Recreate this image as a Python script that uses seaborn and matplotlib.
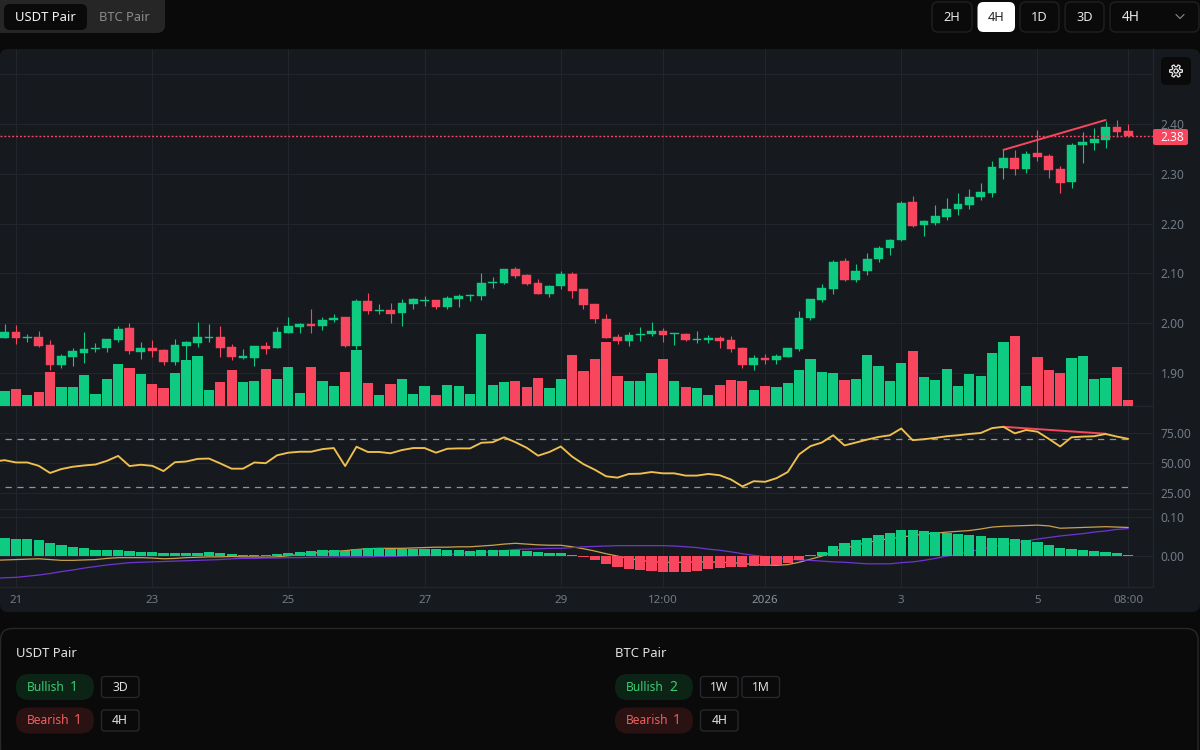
import matplotlib
matplotlib.use('Agg')
import matplotlib.pyplot as plt
import numpy as np
import pandas as pd
import seaborn as sns
from matplotlib.patches import FancyBboxPatch

# === candles, one 4H bar per row ===
candle_open = [1.970, 1.983, 1.970, 1.972, 1.956, 1.917, 1.932, 1.941, 1.948, 1.950, 1.967, 1.990, 1.942, 1.950, 1.946, 1.922, 1.954, 1.960, 1.970, 1.972,
               1.953, 1.930, 1.930, 1.955, 1.951, 1.981, 1.993, 1.998, 1.994, 2.006, 2.012, 1.955, 2.045, 2.025, 2.027, 2.021, 2.039, 2.045, 2.047, 2.033,
               2.049, 2.055, 2.055, 2.080, 2.081, 2.109, 2.096, 2.081, 2.059, 2.074, 2.098, 2.068, 2.038, 2.009, 1.973, 1.964, 1.976, 1.978, 1.984, 1.978,
               1.978, 1.966, 1.966, 1.971, 1.966, 1.950, 1.917, 1.930, 1.926, 1.933, 1.948, 2.011, 2.047, 2.069, 2.124, 2.087, 2.104, 2.128, 2.150, 2.167,
               2.243, 2.197, 2.202, 2.213, 2.229, 2.237, 2.253, 2.262, 2.312, 2.332, 2.310, 2.342, 2.336, 2.310, 2.283, 2.357, 2.362, 2.368, 2.394, 2.385]
candle_high = [1.998, 1.996, 1.978, 1.985, 1.966, 1.938, 1.951, 1.982, 1.960, 1.968, 1.994, 2.000, 1.962, 1.966, 1.948, 1.968, 1.964, 2.002, 1.998, 1.994,
               1.958, 1.948, 1.955, 1.962, 1.992, 2.012, 2.000, 2.029, 2.013, 2.019, 2.013, 2.049, 2.060, 2.039, 2.040, 2.049, 2.051, 2.054, 2.047, 2.055,
               2.059, 2.059, 2.100, 2.092, 2.109, 2.113, 2.098, 2.089, 2.077, 2.104, 2.102, 2.068, 2.038, 2.019, 1.978, 1.982, 1.992, 2.002, 1.990, 1.980,
               1.980, 1.984, 1.976, 1.974, 1.975, 1.952, 1.936, 1.938, 1.938, 1.950, 2.025, 2.049, 2.079, 2.127, 2.130, 2.119, 2.141, 2.155, 2.170, 2.246,
               2.255, 2.207, 2.237, 2.251, 2.261, 2.270, 2.281, 2.326, 2.348, 2.348, 2.345, 2.387, 2.339, 2.316, 2.362, 2.383, 2.392, 2.407, 2.408, 2.400]
candle_low = [1.970, 1.959, 1.962, 1.953, 1.906, 1.911, 1.915, 1.921, 1.943, 1.943, 1.962, 1.938, 1.928, 1.932, 1.917, 1.917, 1.926, 1.953, 1.962, 1.932,
              1.926, 1.928, 1.915, 1.938, 1.951, 1.981, 1.981, 1.981, 1.987, 2.002, 1.953, 1.949, 2.019, 2.019, 2.000, 1.995, 2.029, 2.034, 2.029, 2.029,
              2.033, 2.045, 2.047, 2.071, 2.079, 2.091, 2.077, 2.059, 2.053, 2.068, 2.051, 2.029, 2.000, 1.970, 1.959, 1.955, 1.964, 1.975, 1.962, 1.956,
              1.964, 1.960, 1.960, 1.951, 1.943, 1.910, 1.905, 1.919, 1.919, 1.933, 1.944, 2.007, 2.043, 2.059, 2.085, 2.082, 2.096, 2.123, 2.136, 2.165,
              2.193, 2.175, 2.198, 2.208, 2.217, 2.229, 2.248, 2.253, 2.290, 2.298, 2.302, 2.326, 2.292, 2.262, 2.272, 2.321, 2.347, 2.351, 2.374, 2.374]
candle_close = [1.983, 1.970, 1.973, 1.955, 1.917, 1.934, 1.944, 1.949, 1.950, 1.968, 1.988, 1.944, 1.951, 1.944, 1.922, 1.956, 1.962, 1.972, 1.972, 1.951,
                1.932, 1.934, 1.955, 1.949, 1.983, 1.994, 1.998, 1.995, 2.006, 2.010, 1.955, 2.045, 2.025, 2.027, 2.019, 2.040, 2.049, 2.047, 2.033, 2.051,
                2.055, 2.057, 2.081, 2.083, 2.109, 2.095, 2.079, 2.059, 2.075, 2.098, 2.065, 2.036, 2.008, 1.970, 1.964, 1.977, 1.979, 1.984, 1.976, 1.980,
                1.966, 1.968, 1.971, 1.964, 1.949, 1.917, 1.930, 1.927, 1.934, 1.950, 2.011, 2.049, 2.070, 2.122, 2.087, 2.105, 2.128, 2.151, 2.168, 2.241,
                2.195, 2.205, 2.215, 2.230, 2.239, 2.254, 2.264, 2.313, 2.332, 2.310, 2.339, 2.334, 2.308, 2.282, 2.358, 2.364, 2.370, 2.394, 2.383, 2.376]
volume = [15, 17, 11.3, 14, 34, 19, 19, 31, 12.3, 27.3, 42.3, 37.7, 32, 21.7, 18, 33, 46, 49.7, 16, 24.3,
          35.7, 23.7, 24.7, 36.7, 27.3, 38.7, 13, 38.7, 25.3, 19.7, 34, 56.3, 22.7, 11.3, 21.7, 27.3, 12.3, 20, 11.3, 21,
          20, 12.3, 71.7, 21, 23.7, 25.3, 19, 28.3, 18, 27.3, 51, 35, 47, 64, 30, 24.7, 24.7, 33, 47, 25.3,
          19, 18, 10.7, 21, 25.7, 24.7, 16, 20, 19, 22.7, 36, 47, 34, 33, 26.3, 27.3, 51, 39.7, 24.7, 43.3,
          54.7, 29.3, 25.7, 36.7, 20, 32, 30.3, 52.7, 64, 69.7, 20, 49, 36, 33, 48, 50, 26.7, 28.3, 38.7, 6]

# === indicators ===
rsi = [52.2, 50.3, 50.3, 47.5, 41.5, 44.8, 46.7, 47.8, 48.6, 51.6, 55.8, 47.3, 48.4, 47.5, 43.1, 50.5, 51.1, 53.3, 53.6, 49.5,
       45.1, 45.1, 50.3, 49.7, 56.3, 58.5, 59.3, 59.3, 61.5, 62.4, 47.3, 63.5, 59.1, 59.1, 58.0, 60.7, 62.4, 62.4, 58.5, 61.8,
       62.1, 62.1, 66.8, 67.3, 71.4, 67.3, 62.6, 56.0, 59.1, 63.7, 55.2, 48.9, 44.2, 38.7, 37.6, 40.7, 40.9, 42.3, 41.2, 41.2,
       39.3, 39.3, 40.7, 39.6, 36.0, 30.2, 34.6, 34.1, 37.1, 42.3, 57.1, 64.0, 67.0, 73.1, 64.6, 67.0, 69.5, 71.7, 73.1, 78.8,
       69.0, 69.8, 70.9, 72.3, 73.1, 74.2, 75.0, 79.1, 80.2, 74.7, 77.5, 76.1, 70.1, 63.7, 71.4, 72.0, 72.3, 74.2, 72.0, 70.1]
macd_hist = [.047, .044, .044, .040, .032, .028, .023, .020, .016, .016, .016, .013, .010, .010, .008, .008, .008, .008, .010, .008,
             .005, .003, .003, .003, .005, .008, .010, .013, .016, .016, .013, .017, .020, .020, .017, .018, .018, .018, .018, .015,
             .015, .012, .016, .016, .016, .016, .013, .010, .008, .008, .003, -.003, -.011, -.022, -.030, -.034, -.037, -.039, -.042, -.042,
             -.042, -.039, -.034, -.031, -.029, -.029, -.026, -.026, -.024, -.019, -.011, .003, .010, .025, .033, .040, .047, .054, .059, .067,
             .067, .064, .062, .059, .057, .054, .050, .047, .047, .043, .040, .035, .028, .020, .017, .016, .013, .010, .006, .003]
macd_dif = [-.011, -.010, -.009, -.008, -.010, -.012, -.012, -.011, -.010, -.007, -.005, -.005, -.005, -.006, -.008, -.007, -.005, -.004, -.003, -.003,
            -.002, -.003, -.003, -.004, -.003, .000, .003, .006, .009, .011, .013, .016, .018, .019, .019, .019, .020, .021, .022, .022,
            .023, .023, .025, .027, .030, .032, .030, .028, .027, .027, .023, .018, .012, .005, -.001, -.007, -.012, -.016, -.017, -.017,
            -.017, -.016, -.016, -.017, -.018, -.020, -.023, -.024, -.025, -.023, -.017, -.009, -.001, .010, .019, .027, .034, .040, .044, .048,
            .052, .056, .058, .061, .063, .065, .069, .074, .076, .077, .078, .079, .077, .071, .072, .073, .074, .075, .074, .073]
macd_dea = [-.057, -.056, -.053, -.050, -.046, -.041, -.037, -.032, -.028, -.024, -.021, -.018, -.017, -.016, -.015, -.014, -.013, -.012, -.011, -.010,
            -.008, -.007, -.007, -.006, -.006, -.005, -.005, -.004, -.004, -.003, -.003, -.003, -.003, -.002, -.002, -.001, .000, .001, .003, .003,
            .005, .007, .009, .010, .013, .016, .017, .018, .019, .019, .021, .023, .024, .025, .026, .026, .026, .026, .026, .025,
            .023, .021, .017, .014, .010, .005, .001, -.003, -.006, -.009, -.011, -.012, -.014, -.016, -.017, -.019, -.021, -.021, -.021, -.018,
            -.016, -.012, -.007, -.001, .004, .010, .017, .023, .028, .033, .038, .043, .047, .051, .054, .057, .061, .064, .068, .070]

# the indicator lines come in from one bar left of the visible window
rsi_before = 51.1
dif_before = -.012
dea_before = -.059

# divergence lines, bar number and value at both ends
price_div_bars = [88, 97]
price_div_vals = [2.348, 2.408]
rsi_div_bars = [88, 97]
rsi_div_vals = [80.2, 74.4]
rsi_bands = [70, 30]

# === axis labels ===
tick_bars = [1, 13, 25, 37, 49, 58, 67, 79, 91, 99]
tick_labels = ['21', '23', '25', '27', '29', '12:00', '2026', '3', '5', '08:00']
price_ticks = [1.90, 2.00, 2.10, 2.20, 2.30, 2.40]
price_grid_top = 2.50  # label sits under the settings button in the reference
rsi_ticks = [25, 50, 75]
macd_ticks = [0.00, 0.10]

GREEN = '#0ECB81'
RED = '#F9465F'
GOLD = '#F0C04F'
PURPLE = '#6F35D0'
GRID = '#22262C'
CARD = '#161A1F'
PAGE = '#0A0A0A'
TICK = '#727A84'

sns.set_theme(style='dark')
plt.rcParams['font.family'] = ['Noto Sans', 'DejaVu Sans']

df = pd.DataFrame({'bar': range(len(candle_open)), 'open': candle_open, 'high': candle_high,
                   'low': candle_low, 'close': candle_close, 'volume': volume,
                   'rsi': rsi, 'hist': macd_hist, 'dif': macd_dif, 'dea': macd_dea})
df['dir'] = ['up' if c >= o else 'down' for o, c in zip(df['open'], df['close'])]
df['hist_dir'] = ['up' if h >= 0 else 'down' for h in df['hist']]
palette = {'up': GREEN, 'down': RED}
line_bars = [-1] + df['bar'].tolist()

fig = plt.figure(figsize=(12, 7.5), dpi=100, facecolor=PAGE)


def pane(top, bottom, zorder):
    ax = fig.add_axes([0, 1 - bottom / 750, 1153 / 1200, (bottom - top) / 750], zorder=zorder)
    ax.patch.set_visible(False)
    return ax


def pixel_layer(zorder):
    ax = fig.add_axes([0, 0, 1, 1], zorder=zorder)
    ax.set_xlim(0, 1200)
    ax.set_ylim(750, 0)
    ax.axis('off')
    return ax


def box(ax, x0, y0, x1, y1, face, edge='none', radius=6, lw=1.0):
    ax.add_patch(FancyBboxPatch((x0, y0), x1 - x0, y1 - y0, boxstyle=f'round,pad=0,rounding_size={radius}',
                                facecolor=face, edgecolor=edge, linewidth=lw))


def finish(ax, yticks, ylim, fmt):
    ax.set_xlim(-0.41, 101.18)
    ax.set_ylim(*ylim)
    ax.set_xticks(tick_bars)
    ax.set_xticklabels([])
    ax.set_yticks(yticks)
    ax.set_yticklabels([fmt % t for t in yticks])
    ax.yaxis.tick_right()
    ax.tick_params(axis='y', length=0, pad=5.5, labelsize=8.6, labelcolor=TICK)
    ax.tick_params(axis='x', length=0)
    ax.grid(True, color=GRID, linewidth=0.8)
    ax.set_axisbelow(True)
    ax.set_xlabel('')
    ax.set_ylabel('')
    for name, spine in ax.spines.items():
        spine.set_visible(name in ('right', 'bottom'))
        spine.set_color(GRID)
        spine.set_linewidth(0.9)


# === background card ===
back = pixel_layer(0)
box(back, 0, 49, 1200, 612, CARD, radius=8)

# === candles ===
ax_price = pane(49, 406, 1)
for name, group in df.groupby('dir'):
    color = palette[name]
    body_low = group[['open', 'close']].min(axis=1)
    body_high = group[['open', 'close']].max(axis=1)
    ax_price.vlines(group['bar'], group['low'], group['high'], color=color, linewidth=0.8, zorder=3)
    ax_price.bar(group['bar'], body_high - body_low, bottom=body_low, width=0.77, color=color,
                 edgecolor=color, linewidth=0.3, zorder=4)
last_close = candle_close[-1]
ax_price.axhline(last_close, color=RED, linewidth=1.0, linestyle=(0, (1.4, 1.4)), zorder=5)
ax_price.axhline(price_grid_top, color=GRID, linewidth=0.8, zorder=1)
sns.lineplot(x=price_div_bars, y=price_div_vals, color=RED, linewidth=1.4, ax=ax_price, zorder=6)
finish(ax_price, price_ticks, (1.8337, 2.5506), '%.2f')

# === volume, one px per unit so it sits on the pane floor ===
ax_vol = pane(49, 406, 2)
sns.barplot(data=df, x='bar', y='volume', hue='dir', palette=palette, native_scale=True, dodge=False,
            width=0.9, saturation=1, errorbar=None, legend=False, ax=ax_vol, zorder=3,
            edgecolor='none', linewidth=0)
finish(ax_vol, [], (0, 357), '%.2f')
ax_vol.grid(False)

# === RSI ===
ax_rsi = pane(407, 509, 2)
for band in rsi_bands:
    sns.lineplot(x=[df['bar'].iloc[0], df['bar'].iloc[-1]], y=[band, band], color='#8F959D', linewidth=0.9,
                 linestyle=(0, (5, 4.5)), ax=ax_rsi, zorder=3)
sns.lineplot(x=line_bars, y=[rsi_before] + rsi, color=GOLD, linewidth=1.35, ax=ax_rsi, zorder=4)
sns.lineplot(x=rsi_div_bars, y=rsi_div_vals, color=RED, linewidth=1.4, ax=ax_rsi, zorder=3.5)
finish(ax_rsi, rsi_ticks, (11.3, 96.8), '%.2f')

# === MACD ===
ax_macd = pane(510, 587, 2)
sns.lineplot(x=line_bars, y=[dif_before] + macd_dif, color='#C9A24C', linewidth=0.9, ax=ax_macd, zorder=2)
sns.lineplot(x=line_bars, y=[dea_before] + macd_dea, color=PURPLE, linewidth=0.9, ax=ax_macd, zorder=2)
sns.barplot(data=df, x='bar', y='hist', hue='hist_dir', palette=palette, native_scale=True, dodge=False,
            width=0.9, saturation=1, errorbar=None, legend=False, ax=ax_macd, zorder=3,
            edgecolor='none', linewidth=0)
finish(ax_macd, macd_ticks, (-0.0809, 0.1181), '%.2f')
ax_macd.set_xticklabels(tick_labels)
ax_macd.tick_params(axis='x', pad=5.5, labelsize=8.3, labelcolor=TICK)
for tick in ax_macd.get_xticklabels():
    if tick.get_text() == '2026':
        tick.set_fontweight('bold')
        tick.set_color('#8B929B')

# === page controls ===
ui = pixel_layer(10)


def label(x, y, text, color, size=10, ha='center', **kw):
    ui.text(x, y + 1.2, text, color=color, fontsize=size, ha=ha, va='center', **kw)


box(ui, -6, -6, 165, 33, '#262626', radius=8)
box(ui, 4, 4, 87, 30, PAGE, radius=6)
label(45, 16, 'USDT Pair', '#F2F2F2', size=9.4, weight='medium')
label(124.5, 16, 'BTC Pair', '#8A8A8A', size=9.3)

for x0, x1, text in [(932, 972, '2H'), (1020, 1059, '1D'), (1065, 1104, '3D')]:
    box(ui, x0, 2, x1, 32, PAGE, edge='#1E2023')
    label((x0 + x1) / 2, 16, text, '#E8E8E8', size=9.2)
box(ui, 977.5, 2, 1015, 32, '#FFFFFF')
label(996, 16, '4H', '#222222', size=9.2)
box(ui, 1110, 2, 1199, 32, PAGE, edge='#1E2023')
label(1122, 16, '4H', '#E8E8E8', size=9.8, ha='left')
ui.plot([1176, 1180, 1184], [14.5, 18.5, 14.5], color='#808080', linewidth=0.9)

# settings button, the gear is an outline icon
box(ui, 1161, 57, 1191, 85, PAGE, radius=5)
gear_angle = np.linspace(0, 2 * np.pi, 145)
gear_radius = 5.3 + 1.1 * np.clip(3 * np.cos(6 * gear_angle), -1, 1)
ui.plot(1176 + gear_radius * np.cos(gear_angle), 71 + gear_radius * np.sin(gear_angle), color='#E8E8E8', linewidth=0.9)
ui.plot(1176 + 2.1 * np.cos(gear_angle), 71 + 2.1 * np.sin(gear_angle), color='#E8E8E8', linewidth=0.9)

box(ui, 1153, 129, 1188, 145, RED, radius=2)
label(1172, 136, '%.2f' % last_close, '#FFFFFF', size=8.6)

# === signal summary card ===
box(ui, 0.5, 628.5, 1198, 760, PAGE, edge='#26282C', radius=12)


def signal_row(x, y, name, count, count_x, pill, ink, frames):
    box(ui, x, y - 13, x + 78, y + 13, pill, radius=13)
    label(x + 11, y - 1, name, ink, size=8.7, ha='left')
    label(count_x, y - 1, count, ink, size=10)
    for fx0, fx1, text in frames:
        box(ui, fx0, y - 10.5, fx1, y + 10.5, PAGE, edge='#26282C', radius=3)
        label((fx0 + fx1) / 2, y - 1, text, '#E0E0E0', size=8.8)


label(16, 652, 'USDT Pair', '#E2E2E2', size=9.4, ha='left')
signal_row(16, 687, 'Bullish', '1', 74, '#0B2416', '#3CCB73', [(101.5, 139, '3D')])
signal_row(16, 720.5, 'Bearish', '1', 78, '#2A1212', '#EE5F60', [(101.5, 139, '4H')])
label(615, 652, 'BTC Pair', '#E2E2E2', size=9.4, ha='left')
signal_row(615, 687, 'Bullish', '2', 673, '#0B2416', '#3CCB73', [(700.5, 738, '1W'), (742, 779.5, '1M')])
signal_row(615, 720.5, 'Bearish', '1', 677, '#2A1212', '#EE5F60', [(700.5, 738, '4H')])

fig.savefig('out.png', dpi=100, facecolor=PAGE)
